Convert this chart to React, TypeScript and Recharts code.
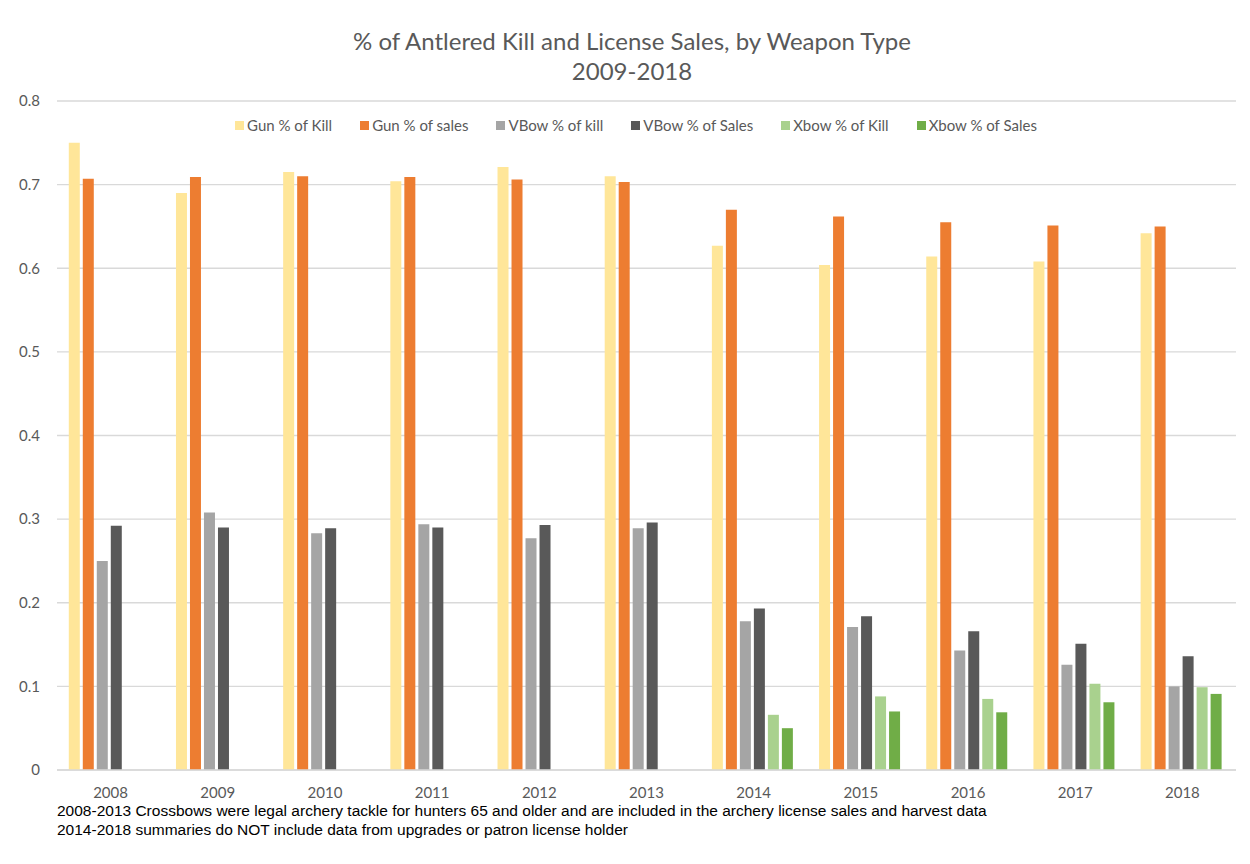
import React from 'react';
import { BarChart, Bar, XAxis, YAxis, CartesianGrid } from 'recharts';

// Categories (seasons)
const years = ['2008', '2009', '2010', '2011', '2012', '2013', '2014', '2015', '2016', '2017', '2018'];

// Share of antlered kill / license sales by weapon type
const gunKill = [0.75, 0.69, 0.715, 0.704, 0.721, 0.71, 0.627, 0.604, 0.614, 0.608, 0.642];
const gunSales = [0.707, 0.709, 0.71, 0.709, 0.706, 0.703, 0.67, 0.662, 0.655, 0.651, 0.65];
const vbowKill = [0.25, 0.308, 0.283, 0.294, 0.277, 0.289, 0.178, 0.171, 0.143, 0.126, 0.1];
const vbowSales = [0.292, 0.29, 0.289, 0.29, 0.293, 0.296, 0.193, 0.184, 0.166, 0.151, 0.136];
// Crossbows were reported separately only from 2014 on
const xbowKill = [null, null, null, null, null, null, 0.066, 0.088, 0.085, 0.103, 0.099];
const xbowSales = [null, null, null, null, null, null, 0.05, 0.07, 0.069, 0.081, 0.091];

const yTicks = [0, 0.1, 0.2, 0.3, 0.4, 0.5, 0.6, 0.7, 0.8];

const seriesDefs = [
  { key: 'gunKill', name: 'Gun % of Kill', color: '#FFE699', values: gunKill },
  { key: 'gunSales', name: 'Gun % of sales', color: '#ED7D31', values: gunSales },
  { key: 'vbowKill', name: 'VBow % of kill', color: '#A5A5A5', values: vbowKill },
  { key: 'vbowSales', name: 'VBow % of Sales', color: '#595959', values: vbowSales },
  { key: 'xbowKill', name: 'Xbow % of Kill', color: '#A9D18E', values: xbowKill },
  { key: 'xbowSales', name: 'Xbow % of Sales', color: '#70AD47', values: xbowSales },
];

const data = years.map((year, i) => {
  const row: Record<string, string | number | null> = { year };
  seriesDefs.forEach((s) => {
    row[s.key] = s.values[i];
  });
  return row;
});

const FONT = "Lato, 'Open Sans', sans-serif";
const TEXT_GRAY = '#595959';
const GRID = '#d9d9d9';

export default function App() {
  return (
    <div
      style={{
        position: 'relative',
        width: 1243,
        height: 857,
        marginTop: -1,
        marginLeft: -1,
        borderTop: `1px solid ${GRID}`,
        borderLeft: `1px solid ${GRID}`,
        boxSizing: 'border-box',
        background: '#fff',
        fontFamily: FONT,
      }}
    >
      <div
        style={{
          position: 'absolute',
          top: 18,
          left: 0,
          width: 1242,
          paddingLeft: 6,
          boxSizing: 'border-box',
          textAlign: 'center',
          color: TEXT_GRAY,
          fontSize: 24,
          lineHeight: '30px',
        }}
      >
        <div>% of Antlered Kill and License Sales, by Weapon Type</div>
        <div>2009-2018</div>
      </div>

      <div style={{ position: 'absolute', top: 0, left: 0 }}>
        <BarChart
          width={1242}
          height={856}
          data={data}
          margin={{ top: 93, right: 14, bottom: 64, left: 9 }}
          barCategoryGap="11%"
          barGap={3}
        >
          <CartesianGrid vertical={false} stroke={GRID} strokeWidth={1.3} />
          <XAxis
            dataKey="year"
            height={30}
            axisLine={{ stroke: GRID, strokeWidth: 1.3 }}
            tickLine={false}
            tickMargin={11}
            tick={{ fill: TEXT_GRAY, fontSize: 15, fontFamily: FONT }}
          />
          <YAxis
            width={40}
            domain={[0, 0.8]}
            ticks={yTicks}
            axisLine={false}
            tickLine={false}
            tickMargin={11}
            tick={{ fill: TEXT_GRAY, fontSize: 15, fontFamily: FONT }}
          />
          {seriesDefs.map((s) => (
            <Bar key={s.key} dataKey={s.key} name={s.name} fill={s.color} isAnimationActive={false} />
          ))}
        </BarChart>
      </div>

      <div
        style={{
          position: 'absolute',
          top: 108,
          left: 0,
          width: 1242,
          height: 18,
          paddingLeft: 14,
          boxSizing: 'border-box',
          display: 'flex',
          justifyContent: 'center',
          alignItems: 'center',
          gap: 28,
          color: TEXT_GRAY,
          fontSize: 15,
        }}
      >
        {seriesDefs.map((s) => (
          <div key={s.key} style={{ display: 'flex', alignItems: 'center' }}>
            <span style={{ display: 'inline-block', width: 9, height: 9, background: s.color, marginRight: 3 }} />
            <span>{s.name}</span>
          </div>
        ))}
      </div>

      <div
        style={{
          position: 'absolute',
          top: 793,
          left: 49,
          color: '#000',
          fontSize: 15.5,
          lineHeight: '19px',
          fontFamily: "'Liberation Sans Narrow', 'Arial Narrow', sans-serif",
          whiteSpace: 'nowrap',
        }}
      >
        <div>
          2008-2013 Crossbows were legal archery tackle for hunters 65 and older and are included in the archery license sales and harvest data
        </div>
        <div>2014-2018 summaries do NOT include data from upgrades or patron license holder</div>
      </div>
    </div>
  );
}
